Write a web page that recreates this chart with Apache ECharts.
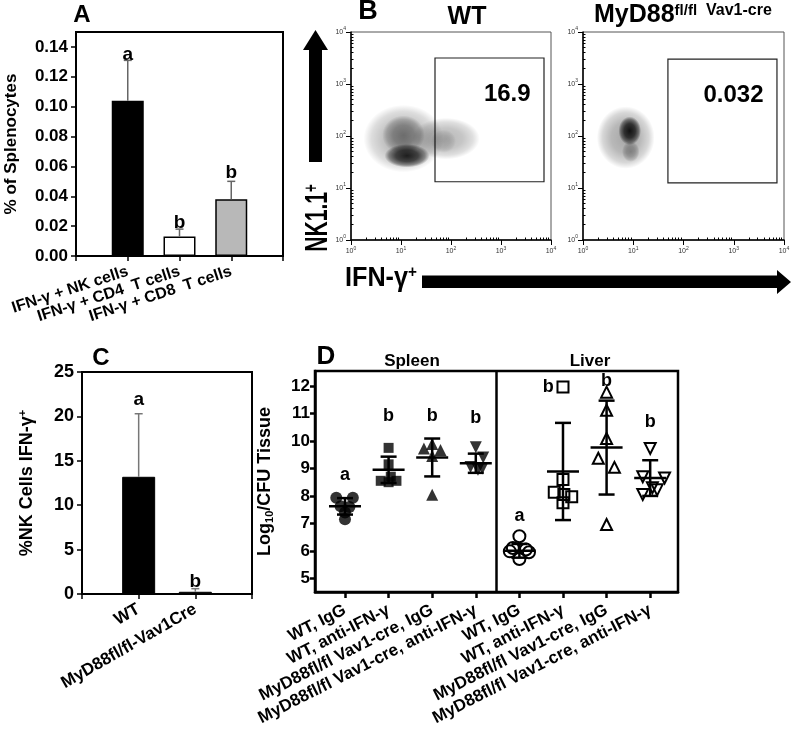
<!DOCTYPE html>
<html>
<head>
<meta charset="utf-8">
<script src="https://cdn.jsdelivr.net/npm/echarts@6/dist/echarts.min.js"></script>
<style>
  html, body { margin: 0; padding: 0; background: #fff; }
  #chart { width: 791px; height: 736px; }
</style>
</head>
<body>
<div id="chart"></div>
<script>
// ---- panel A: % of splenocytes ----
const aCats = ['', 'IFN-γ + NK cells', 'IFN-γ + CD4  T cells', 'IFN-γ + CD8  T cells', ''];
const aValues = [null, 0.104, 0.013, 0.038, null];
const aErrors = [null, 0.027, 0.005, 0.012, null];
const aLetters = [null, 'a', 'b', 'b', null];
const aLetterY = [null, 0.135, 0.022, 0.056, null];
const aTicks = [0, 0.02, 0.04, 0.06, 0.08, 0.10, 0.12, 0.14];

// ---- panel B: flow plots (log10 decades) ----
// density blobs: [log x, log y, spread x, spread y, density]
const wtBlob = [
  [1.05, 1.95, 1.6, 1.3, 0.3],
  [1.9, 1.95, 1.35, 0.8, 0.28],
  [1.05, 2.02, 0.85, 0.75, 0.4],
  [1.12, 1.62, 0.9, 0.45, 0.85],
  [1.85, 1.9, 0.5, 0.45, 0.15]
];
const koBlob = [
  [0.85, 1.97, 1.15, 1.2, 0.35],
  [0.93, 2.1, 0.45, 0.55, 0.9],
  [0.95, 1.7, 0.35, 0.4, 0.3]
];
// gate: [x0, y0, x1, y1] in decades, and gate percentage
const wtGate = [1.68, 1.12, 3.86, 3.5];
const koGate = [1.69, 1.10, 3.86, 3.48];
const wtPct = '16.9';
const koPct = '0.032';

// ---- panel C: %NK cells IFN-γ+ ----
const cCats = ['', 'WT', 'MyD88fl/fl-Vav1Cre', ''];
const cValues = [null, 13.2, 0.25, null];
const cErrors = [null, 7.1, 0.35, null];
const cLetters = [null, 'a', 'b', null];
const cLetterY = [null, 21.85, 1.35, null];

// ---- panel D: log10 CFU / tissue ----
const dGroups = ['WT, IgG', 'WT, anti-IFN-γ', 'MyD88fl/fl Vav1-cre, IgG', 'MyD88fl/fl Vav1-cre, anti-IFN-γ'];
const dLabels = dGroups.concat(dGroups);
const dTicks = [5, 6, 7, 8, 9, 10, 11, 12];
// points per group: [jitter, value]
const dPoints = [
  [[-0.2, 7.93], [0.18, 7.93], [-0.1, 7.62], [0.1, 7.6], [0, 7.4], [0, 7.15]],
  [[0, 9.75], [0, 9.15], [-0.18, 8.55], [0, 8.5], [0.18, 8.55], [0.05, 8.7]],
  [[0, 9.89], [-0.19, 9.73], [0.19, 9.67], [0, 9.45], [0, 8.04]],
  [[0, 9.77], [0.17, 9.4], [-0.12, 9.05], [0.05, 8.95], [0.15, 9.0]],
  [[0, 6.53], [-0.15, 6.1], [0.15, 6.05], [-0.22, 5.98], [0.22, 5.95], [0, 5.7]],
  [[0, 11.97], [0, 8.6], [-0.2, 8.13], [0.2, 7.97], [0, 7.75], [0.02, 8.05]],
  [[0, 11.78], [0, 11.12], [0, 10.09], [-0.19, 9.37], [0.18, 9.04], [0, 6.96]],
  [[0, 9.73], [-0.17, 8.7], [0.33, 8.65], [0.16, 8.22], [-0.17, 8.05], [0.05, 8.3]]
];
const dMean = [7.62, 8.95, 9.4, 9.19, 6.0, 8.89, 9.76, 8.65];
const dSd = [0.3, 0.48, 0.69, 0.35, 0.25, 1.77, 1.71, 0.65];
const dLetters = [['a', 1, 8.77], ['b', 2, 10.9], ['b', 3, 10.9], ['b', 4, 10.85],
                  ['a', 5, 7.26], ['b', 5.66, 11.97], ['b', 7, 12.17], ['b', 8, 10.7]];
const dDivider = 4.46;

const FONT = 'Arial, "Liberation Sans", Helvetica, sans-serif';
const chart = echarts.init(document.getElementById('chart'));

// symbols for panel D (spleen filled, liver open)
const dSymbols = [
  { symbol: 'circle', size: 12, rot: 0 }, { symbol: 'rect', size: 10, rot: 0 },
  { symbol: 'triangle', size: 12, rot: 0 }, { symbol: 'triangle', size: 12, rot: 180 },
  { symbol: 'circle', size: 12, rot: 0 }, { symbol: 'rect', size: 11, rot: 0 },
  { symbol: 'triangle', size: 11, rot: 0 }, { symbol: 'triangle', size: 11, rot: 180 }
];

// minor log ticks
const minorLog = [];
for (let d = 0; d < 4; d++) {
  for (let k = 2; k < 10; k++) minorLog.push(d + Math.log10(k));
}

function errorSeries(xi, yi, values, errors, color) {
  return {
    type: 'custom', xAxisIndex: xi, yAxisIndex: yi, z: 3, silent: true,
    data: values.map((v, i) => [i, v, errors[i]]).filter(d => d[1] != null),
    renderItem(params, api) {
      const x = api.value(0), v = api.value(1), e = api.value(2);
      const p = api.coord([x, v]), q = api.coord([x, v + e]);
      const st = { stroke: color, lineWidth: 1.5 };
      return { type: 'group', children: [
        { type: 'line', shape: { x1: p[0], y1: p[1], x2: q[0], y2: q[1] }, style: st },
        { type: 'line', shape: { x1: q[0] - 4, y1: q[1], x2: q[0] + 4, y2: q[1] }, style: st }
      ] };
    }
  };
}

function letterSeries(xi, yi, items, size) {
  return {
    type: 'custom', xAxisIndex: xi, yAxisIndex: yi, z: 5, silent: true,
    data: items.map(it => [it[1], it[2]]),
    renderItem(params, api) {
      const p = api.coord([api.value(0), api.value(1)]);
      return { type: 'text', x: p[0], y: p[1],
        style: { text: items[params.dataIndex][0], font: 'bold ' + size + 'px ' + FONT, fill: '#000', align: 'center', verticalAlign: 'middle' } };
    }
  };
}

function blobSeries(xi, yi, blob, gate, pct) {
  return {
    type: 'custom', xAxisIndex: xi, yAxisIndex: yi, silent: true, clip: true,
    data: blob,
    renderItem(params, api) {
      const c = api.coord([api.value(0), api.value(1)]);
      const s = api.size([api.value(2), api.value(3)]);
      const d = api.value(4);
      const fill = new echarts.graphic.RadialGradient(0.5, 0.5, 0.5, [
        { offset: 0, color: 'rgba(0,0,0,' + d + ')' },
        { offset: 0.5, color: 'rgba(0,0,0,' + (d * 0.8) + ')' },
        { offset: 0.8, color: 'rgba(0,0,0,' + (d * 0.45) + ')' },
        { offset: 1, color: 'rgba(0,0,0,0)' }
      ]);
      return { type: 'circle', x: c[0], y: c[1], scaleX: s[0] / s[1],
        shape: { cx: 0, cy: 0, r: s[1] / 2 }, style: { fill: fill } };
    },
    markArea: {
      silent: true,
      itemStyle: { color: 'rgba(0,0,0,0)', borderColor: '#222', borderWidth: 1.2 },
      label: { show: true, position: 'insideTopRight', distance: 5, offset: [-9, 20],
        color: '#000', fontFamily: FONT, fontWeight: 'bold', fontSize: 24 },
      data: [[{ xAxis: gate[0], yAxis: gate[3], name: pct }, { xAxis: gate[2], yAxis: gate[1] }]]
    }
  };
}

function flowAxes(gi, dir) {
  const major = {
    type: 'value', gridIndex: gi, min: 0, max: 4, interval: 1,
    axisLine: { show: true, lineStyle: { color: '#000', width: 1.5 } },
    axisTick: { show: true, length: 5, lineStyle: { color: '#000', width: 1 } },
    splitLine: { show: false },
    axisLabel: {
      margin: dir === 'x' ? 6 : 5,
      formatter: v => '{b|10}{s|' + v + '}',
      rich: { b: { fontSize: 7, fontFamily: FONT, color: '#333' },
              s: { fontSize: 5, fontFamily: FONT, color: '#333', padding: [0, 0, 6, 0] } }
    }
  };
  const minor = {
    type: 'value', gridIndex: gi, min: 0, max: 4,
    axisLine: { show: false },
    axisTick: { show: true, length: 2.5, customValues: minorLog, lineStyle: { color: '#000', width: 1 } },
    axisLabel: { show: false }, splitLine: { show: false }
  };
  return [major, minor];
}

const boldAxisLabel = (size) => ({ color: '#000', fontFamily: FONT, fontWeight: 'bold', fontSize: size });
const blackLine = (w) => ({ show: true, lineStyle: { color: '#000', width: w } });

const fx1 = flowAxes(1, 'x'), fy1 = flowAxes(1, 'y');
const fx2 = flowAxes(2, 'x'), fy2 = flowAxes(2, 'y');

const option = {
  backgroundColor: '#fff',
  animation: false,
  grid: [
    { left: 76, top: 32, width: 207, height: 224, show: true, borderColor: '#000', borderWidth: 2, outerBoundsMode: 'none' },
    { left: 351, top: 32, width: 200, height: 208, show: true, borderColor: '#555', borderWidth: 1, outerBoundsMode: 'none' },
    { left: 583, top: 32, width: 201, height: 208, show: true, borderColor: '#555', borderWidth: 1, outerBoundsMode: 'none' },
    { left: 82, top: 372, width: 170, height: 222, show: true, borderColor: '#000', borderWidth: 2, outerBoundsMode: 'none' },
    { left: 315, top: 371, width: 363, height: 221, show: true, borderColor: '#000', borderWidth: 2.5, outerBoundsMode: 'none' }
  ],
  xAxis: [
    { type: 'category', gridIndex: 0, data: aCats, boundaryGap: false,
      axisLine: blackLine(2), axisTick: { show: true, length: 5, lineStyle: { color: '#000', width: 1.5 } },
      axisLabel: Object.assign(boldAxisLabel(16), { rotate: 18, interval: 0, margin: 15 }) },
    fx1[0], fx1[1], fx2[0], fx2[1],
    { type: 'category', gridIndex: 3, data: cCats, boundaryGap: false,
      axisLine: blackLine(2), axisTick: { show: true, length: 5, lineStyle: { color: '#000', width: 1.5 } },
      axisLabel: Object.assign(boldAxisLabel(17), { rotate: 30, interval: 0, margin: 14 }) },
    { type: 'value', gridIndex: 4, min: 0.312, max: 8.638,
      axisLine: blackLine(2.5), splitLine: { show: false },
      axisTick: { show: true, length: 6, customValues: [1, 2, 3, 4, 5, 6, 7, 8], lineStyle: { color: '#000', width: 2.5 } },
      axisLabel: Object.assign(boldAxisLabel(17), { rotate: 27, margin: 17,
        customValues: [1, 2, 3, 4, 5, 6, 7, 8], formatter: v => dLabels[Math.round(v) - 1] }) }
  ],
  yAxis: [
    { type: 'value', gridIndex: 0, min: 0, max: 0.15,
      axisLine: blackLine(2), splitLine: { show: false },
      axisTick: { show: true, length: 5, customValues: aTicks, lineStyle: { color: '#000', width: 1.5 } },
      axisLabel: Object.assign(boldAxisLabel(17), { margin: 8, customValues: aTicks, formatter: v => v.toFixed(2) }),
      name: '% of Splenocytes', nameLocation: 'middle', nameGap: 56,
      nameTextStyle: boldAxisLabel(17) },
    fy1[0], fy1[1], fy2[0], fy2[1],
    { type: 'value', gridIndex: 3, min: 0, max: 25, interval: 5,
      axisLine: blackLine(2), splitLine: { show: false },
      axisTick: { show: true, length: 5, lineStyle: { color: '#000', width: 1.5 } },
      axisLabel: Object.assign(boldAxisLabel(18), { margin: 8 }),
      name: '{a|%NK Cells IFN-γ}{s|+}', nameLocation: 'middle', nameGap: 44,
      nameTextStyle: { rich: { a: boldAxisLabel(18), s: Object.assign(boldAxisLabel(11), { padding: [0, 0, 10, 0] }) } } },
    { type: 'value', gridIndex: 4, min: 4.5, max: 12.55,
      axisLine: blackLine(2.5), splitLine: { show: false },
      axisTick: { show: true, length: 5, customValues: dTicks, lineStyle: { color: '#000', width: 2.5 } },
      axisLabel: Object.assign(boldAxisLabel(17), { margin: 5, customValues: dTicks }),
      name: '{a|Log}{s|10}{a|/CFU Tissue}', nameLocation: 'middle', nameGap: 40,
      nameTextStyle: { rich: { a: boldAxisLabel(18), s: Object.assign(boldAxisLabel(11), { padding: [8, 0, 0, 0] }) } } }
  ],
  series: [
    // A
    { type: 'bar', xAxisIndex: 0, yAxisIndex: 0, barWidth: 32, silent: true,
      data: aValues.map((v, i) => ({ value: v, itemStyle: {
        color: ['#000', '#000', '#fff', '#b8b8b8', '#000'][i], borderColor: '#000', borderWidth: 1.5 } })) },
    errorSeries(0, 0, aValues, aErrors, '#666'),
    letterSeries(0, 0, aLetters.map((t, i) => [t, i, aLetterY[i]]).filter(d => d[0]), 19),
    // B
    blobSeries(1, 1, wtBlob, wtGate, wtPct),
    blobSeries(3, 3, koBlob, koGate, koPct),
    // C
    { type: 'bar', xAxisIndex: 5, yAxisIndex: 5, barWidth: 33, silent: true,
      data: cValues.map(v => ({ value: v, itemStyle: { color: '#000', borderColor: '#000', borderWidth: 1 } })) },
    errorSeries(5, 5, cValues, cErrors, '#777'),
    letterSeries(5, 5, cLetters.map((t, i) => [t, i, cLetterY[i]]).filter(d => d[0]), 19),
    // D points
    ...dPoints.map((pts, g) => ({
      type: 'scatter', xAxisIndex: 6, yAxisIndex: 6, silent: true, z: 2,
      symbol: dSymbols[g].symbol, symbolSize: dSymbols[g].size, symbolRotate: dSymbols[g].rot,
      itemStyle: g < 4 ? { color: '#000' } : { color: 'rgba(255,255,255,0)', borderColor: '#000', borderWidth: 2, opacity: 1 },
      data: pts.map(p => [g + 1 + p[0], p[1]]),
      markLine: g === 0 ? { silent: true, symbol: 'none', label: { show: false },
        lineStyle: { color: '#000', width: 2.5, type: 'solid' }, data: [{ xAxis: dDivider }] } : undefined
    })),
    { type: 'custom', xAxisIndex: 6, yAxisIndex: 6, z: 4, silent: true,
      data: dMean.map((m, i) => [i + 1, m, dSd[i]]),
      renderItem(params, api) {
        const x = api.value(0), m = api.value(1), s = api.value(2);
        const c = api.coord([x, m]), t = api.coord([x, m + s]), b = api.coord([x, m - s]);
        const st = { stroke: '#000', lineWidth: 2.5 };
        return { type: 'group', children: [
          { type: 'line', shape: { x1: c[0] - 16, y1: c[1], x2: c[0] + 16, y2: c[1] }, style: st },
          { type: 'line', shape: { x1: t[0], y1: t[1], x2: b[0], y2: b[1] }, style: st },
          { type: 'line', shape: { x1: t[0] - 8, y1: t[1], x2: t[0] + 8, y2: t[1] }, style: st },
          { type: 'line', shape: { x1: b[0] - 8, y1: b[1], x2: b[0] + 8, y2: b[1] }, style: st }
        ] };
      }
    },
    letterSeries(6, 6, dLetters, 18)
  ],
  graphic: [
    { type: 'text', x: 82, y: 15, style: { text: 'A', font: 'bold 24px ' + FONT, fill: '#000', align: 'center', verticalAlign: 'middle' } },
    { type: 'text', x: 368, y: 12, style: { text: 'B', font: 'bold 27px ' + FONT, fill: '#000', align: 'center', verticalAlign: 'middle' } },
    { type: 'text', x: 101, y: 358, style: { text: 'C', font: 'bold 24px ' + FONT, fill: '#000', align: 'center', verticalAlign: 'middle' } },
    { type: 'text', x: 326, y: 357, style: { text: 'D', font: 'bold 26px ' + FONT, fill: '#000', align: 'center', verticalAlign: 'middle' } },
    { type: 'text', x: 467, y: 17, style: { text: 'WT', font: 'bold 25px ' + FONT, fill: '#000', align: 'center', verticalAlign: 'middle' } },
    { type: 'text', x: 594, y: 3, style: {
        text: '{a|MyD88}{s|fl/fl}{v|  Vav1-cre}', fill: '#000', align: 'left', verticalAlign: 'top',
        rich: { a: { font: 'bold 25px ' + FONT, verticalAlign: 'bottom' },
                s: { font: 'bold 15px ' + FONT, verticalAlign: 'top' },
                v: { font: 'bold 16px ' + FONT, verticalAlign: 'top' } } } },
    { type: 'text', x: 412, y: 361, style: { text: 'Spleen', font: 'bold 17px ' + FONT, fill: '#000', align: 'center', verticalAlign: 'middle' } },
    { type: 'text', x: 590, y: 361, style: { text: 'Liver', font: 'bold 17px ' + FONT, fill: '#000', align: 'center', verticalAlign: 'middle' } },
    // NK1.1+ arrow (up)
    { type: 'polygon', shape: { points: [[309, 162], [322, 162], [322, 50], [328, 50], [315.5, 30], [303, 50], [309, 50]] }, style: { fill: '#000' } },
    { type: 'text', x: 318, y: 218, rotation: Math.PI / 2, scaleX: 0.66,
      style: { text: '{a|NK1.1}{s|+}', fill: '#000', align: 'center', verticalAlign: 'middle',
        rich: { a: { font: 'bold 32px ' + FONT, verticalAlign: 'bottom' }, s: { font: 'bold 20px ' + FONT, verticalAlign: 'top' } } } },
    // IFN-γ+ arrow (right)
    { type: 'polygon', shape: { points: [[422, 275.5], [777, 275.5], [777, 270], [791, 282], [777, 294], [777, 288], [422, 288]] }, style: { fill: '#000' } },
    { type: 'text', x: 345, y: 278, scaleX: 0.9,
      style: { text: '{a|IFN-γ}{s|+}', fill: '#000', align: 'left', verticalAlign: 'middle',
        rich: { a: { font: 'bold 28px ' + FONT, verticalAlign: 'bottom' }, s: { font: 'bold 17px ' + FONT, verticalAlign: 'top' } } } }
  ]
};

chart.setOption(option);
</script>
</body>
</html>
